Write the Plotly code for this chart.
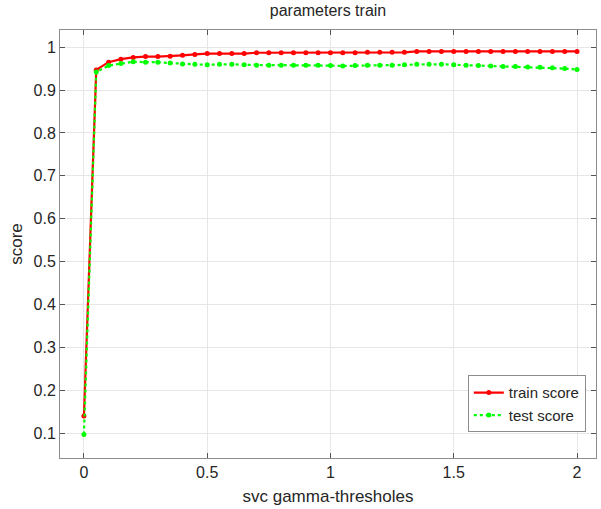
import plotly.graph_objects as go

gamma = [round(i * 0.05, 2) for i in range(41)]
train_score = [0.140, 0.947, 0.965, 0.972, 0.976, 0.978, 0.978, 0.979, 0.981, 0.983,
               0.985, 0.985, 0.985, 0.985, 0.987, 0.987, 0.987, 0.987, 0.987, 0.987,
               0.987, 0.987, 0.987, 0.988, 0.988, 0.988, 0.988, 0.990, 0.990, 0.990,
               0.990, 0.990, 0.990, 0.990, 0.990, 0.990, 0.990, 0.990, 0.990, 0.990, 0.990]
test_score = [0.097, 0.942, 0.957, 0.962, 0.966, 0.965, 0.965, 0.963, 0.961, 0.960,
              0.959, 0.960, 0.960, 0.959, 0.958, 0.958, 0.958, 0.958, 0.958, 0.958,
              0.957, 0.956, 0.957, 0.958, 0.958, 0.958, 0.959, 0.960, 0.960, 0.960,
              0.959, 0.958, 0.957, 0.956, 0.955, 0.955, 0.954, 0.953, 0.952, 0.950, 0.948]
x_ticks = [0, 0.5, 1, 1.5, 2]
y_ticks = [0.1, 0.2, 0.3, 0.4, 0.5, 0.6, 0.7, 0.8, 0.9, 1]

font = "Liberation Sans, Arial, Helvetica, sans-serif"
fig = go.Figure()
fig.add_trace(go.Scatter(x=gamma, y=train_score, mode="lines+markers", name="train score",
                         line=dict(color="#ff0000", width=2.2),
                         marker=dict(color="#ff0000", size=5)))
fig.add_trace(go.Scatter(x=gamma, y=test_score, mode="lines+markers", name="test score",
                         line=dict(color="#00ff00", width=2.2, dash="dot"),
                         marker=dict(color="#00ff00", size=5)))

axis_common = dict(showline=True, linecolor="#8c8c8c", linewidth=1, mirror="ticks",
                   ticks="inside", ticklen=5, tickcolor="#555555",
                   showgrid=True, gridcolor="#e6e6e6", gridwidth=1, zeroline=False,
                   tickfont=dict(size=16, color="#262626", family=font))
fig.update_xaxes(range=[-0.097, 2.077], tickvals=x_ticks, ticktext=["0", "0.5", "1", "1.5", "2"],
                 title=dict(text="svc gamma-thresholes", font=dict(size=17, color="#262626", family=font),
                            standoff=9),
                 **axis_common)
fig.update_yaxes(range=[0.042, 1.04], tickvals=y_ticks,
                 ticktext=["0.1", "0.2", "0.3", "0.4", "0.5", "0.6", "0.7", "0.8", "0.9", "1"],
                 title=dict(text="score", font=dict(size=17, color="#262626", family=font), standoff=6),
                 **axis_common)
fig.update_layout(
    width=601, height=509,
    margin=dict(l=60, r=5, t=30, b=51),
    paper_bgcolor="white", plot_bgcolor="white",
    title=dict(text="parameters train", x=0.5, xref="paper", y=0.98, yanchor="middle",
               font=dict(size=16, color="#262626", family=font)),
    legend=dict(x=0.981, xanchor="right", y=0.06, yanchor="bottom",
                bgcolor="white", bordercolor="#8c8c8c", borderwidth=1,
                font=dict(size=15, color="#262626", family=font),
                tracegroupgap=0),
    showlegend=True,
)
fig.write_html("out.html")
